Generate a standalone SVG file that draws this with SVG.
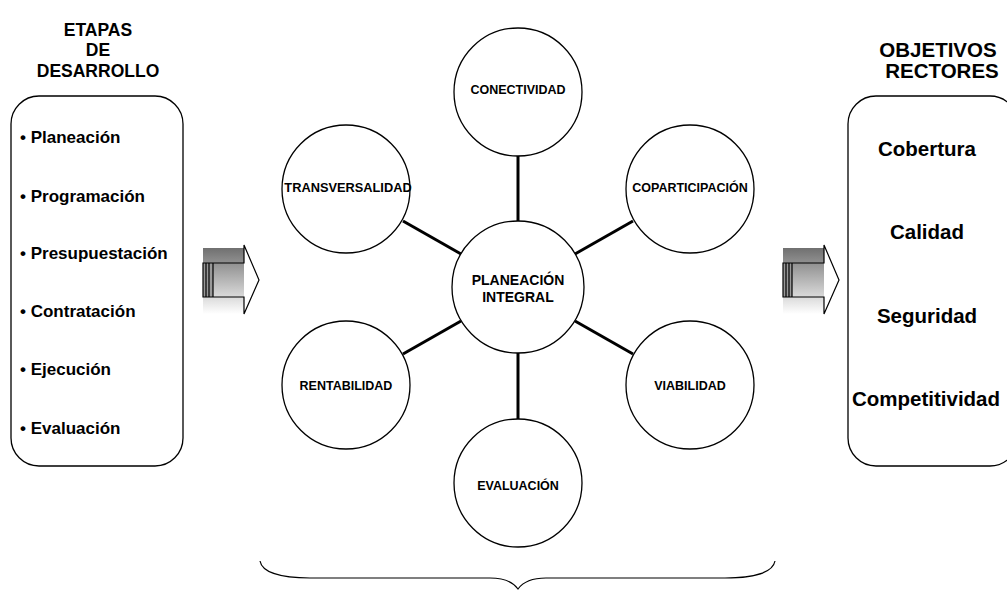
<svg xmlns="http://www.w3.org/2000/svg" width="1007" height="590" viewBox="0 0 1007 590">
<defs>
<linearGradient id="g" x1="0" y1="0" x2="0" y2="1">
<stop offset="0" stop-color="#707070"/>
<stop offset="1" stop-color="#ffffff"/>
</linearGradient>
<style>
text{font-family:"Liberation Sans",Arial,sans-serif;font-weight:bold;fill:#000}
.c{fill:#fff;stroke:#000;stroke-width:1.3}
.t{font-size:12.5px;text-anchor:middle}
.box{fill:#fff;stroke:#000;stroke-width:1.3}
.li{font-size:17px}
.ri{font-size:20.5px;text-anchor:middle}
.h{font-size:17.5px;text-anchor:middle}
.h2{font-size:20.5px;text-anchor:middle}
.con line{stroke:#000;stroke-width:3}
.ar{fill:none;stroke:#000;stroke-width:1.2}
</style>
</defs>
<rect width="1007" height="590" fill="#fff"/>
<g id="etapas">
<text class="h" x="98" y="36">ETAPAS</text>
<text class="h" x="98" y="56">DE</text>
<text class="h" x="98" y="77">DESARROLLO</text>
<rect class="box" x="11" y="96" width="172" height="370" rx="28"/>
<text class="li" x="20" y="143">• Planeación</text>
<text class="li" x="20" y="202">• Programación</text>
<text class="li" x="20" y="259">• Presupuestación</text>
<text class="li" x="20" y="317">• Contratación</text>
<text class="li" x="20" y="375">• Ejecución</text>
<text class="li" x="20" y="434">• Evaluación</text>
</g>
<g id="objetivos">
<text class="h2" x="938" y="57">OBJETIVOS</text>
<text class="h2" x="942" y="78">RECTORES</text>
<rect class="box" x="848" y="96" width="170" height="370" rx="28"/>
<text class="ri" x="927" y="156">Cobertura</text>
<text class="ri" x="927" y="239">Calidad</text>
<text class="ri" x="927" y="323">Seguridad</text>
<text class="ri" x="926" y="406">Competitividad</text>
</g>
<g id="arrow-left">
<rect x="203" y="248" width="41" height="66" fill="url(#g)"/>
<rect x="203" y="263" width="10" height="34" fill="#999"/>
<path class="ar" d="M203,263 H244 V245 L259,280 L244,314 V297 H203 Z M206,263 V297 M209,263 V297 M213,263 V297"/>
</g>
<g id="arrow-right">
<rect x="783" y="248" width="41" height="66" fill="url(#g)"/>
<rect x="783" y="263" width="9" height="34" fill="#999"/>
<path class="ar" d="M783,263 H824 V245 L839,280 L824,314 V297 H783 Z M786,263 V297 M789,263 V297 M792,263 V297"/>
</g>
<g id="connectors" class="con">
<line x1="518" y1="155" x2="518" y2="221"/>
<line x1="518" y1="353" x2="518" y2="420"/>
<line x1="403" y1="221" x2="461" y2="254"/>
<line x1="633" y1="221" x2="575" y2="254"/>
<line x1="403" y1="354" x2="461" y2="321"/>
<line x1="633" y1="354" x2="575" y2="321"/>
</g>
<g id="center"><circle class="c" cx="518" cy="287" r="66"/>
<text class="t" x="518" y="285" style="font-size:14px">PLANEACIÓN</text>
<text class="t" x="518" y="302" style="font-size:14px">INTEGRAL</text></g>
<g id="conectividad"><circle class="c" cx="518" cy="92" r="64"/><text class="t" x="518" y="94">CONECTIVIDAD</text></g>
<g id="evaluacion"><circle class="c" cx="518" cy="483" r="64"/><text class="t" x="518" y="490">EVALUACIÓN</text></g>
<g id="transversalidad"><circle class="c" cx="346" cy="189" r="64"/><text class="t" x="348" y="192" style="font-size:12.8px">TRANSVERSALIDAD</text></g>
<g id="coparticipacion"><circle class="c" cx="690" cy="189" r="64"/><text class="t" x="690" y="192">COPARTICIPACIÓN</text></g>
<g id="rentabilidad"><circle class="c" cx="346" cy="385" r="64"/><text class="t" x="346" y="390">RENTABILIDAD</text></g>
<g id="viabilidad"><circle class="c" cx="690" cy="385" r="64"/><text class="t" x="690" y="390">VIABILIDAD</text></g>
<path id="brace" d="M260,561 C262,572 280,578 310,578 H490 C505,578 513,582 518,589 C523,582 531,578 546,578 H725 C755,578 773,572 775,561" fill="none" stroke="#000" stroke-width="1.2"/>
</svg>
